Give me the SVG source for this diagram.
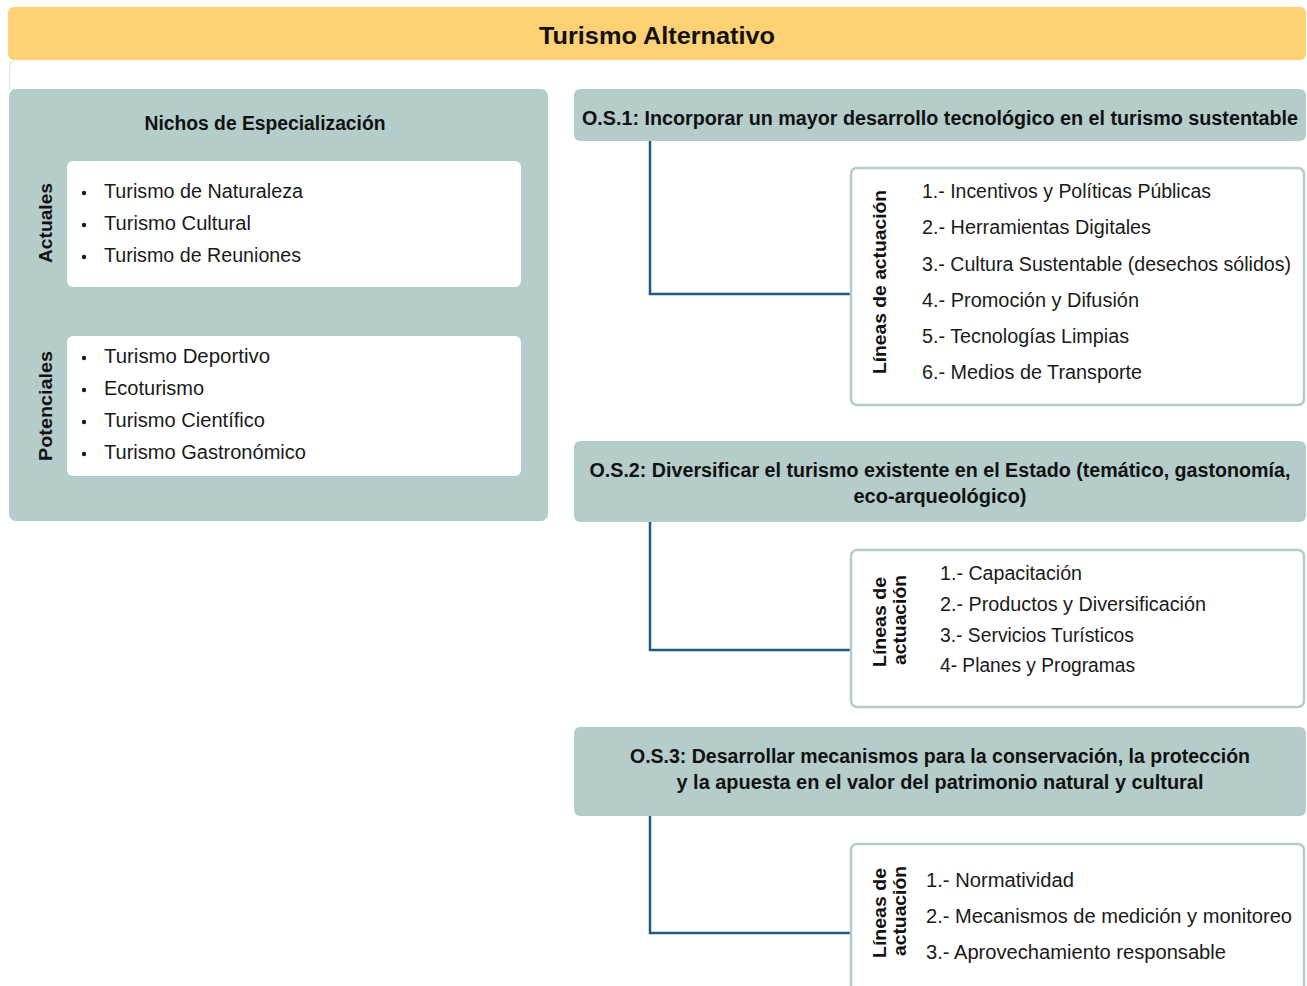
<svg xmlns="http://www.w3.org/2000/svg" width="1307" height="986" viewBox="0 0 1307 986">
<style>
.teal{fill:#B4CDCA}
.wbox{fill:#FFFFFF}
.obox{fill:#FFFFFF;stroke:#B4CDCA;stroke-width:2.5}
.t{font-family:"Liberation Sans",Arial,sans-serif;fill:#1a1a1a}
.b{font-family:"Liberation Sans",Arial,sans-serif;font-weight:bold;fill:#111}
.item{font-size:20px}
.hd{font-size:19.5px}
.rot{font-size:18px}
.conn{fill:none;stroke:#1F5A86;stroke-width:2.5}
</style>
<rect width="1307" height="986" fill="#FFFFFF"/>
<g id="title">
<rect x="8" y="7" width="1298" height="53" rx="6" fill="#FED274"/>
<text class="b" x="657" y="44" font-size="24" text-anchor="middle" textLength="236" lengthAdjust="spacingAndGlyphs">Turismo Alternativo</text>
</g>
<path d="M9.5 90 L9.5 66 Q9.5 61 14 61" fill="none" stroke="#E3ECEB" stroke-width="1.5"/>
<g id="nichos">
<rect class="teal" x="9" y="89" width="539" height="432" rx="7"/>
<text class="b hd" x="265" y="130" text-anchor="middle" textLength="241" lengthAdjust="spacingAndGlyphs">Nichos de Especialización</text>
</g>
<g id="actuales">
<rect class="wbox" x="67" y="161" width="454" height="126" rx="6"/>
<text class="b" font-size="19" transform="translate(52,223) rotate(-90)" text-anchor="middle" textLength="80" lengthAdjust="spacingAndGlyphs">Actuales</text>
<circle cx="84" cy="193" r="2.2" fill="#1a1a1a"/>
<circle cx="84" cy="225" r="2.2" fill="#1a1a1a"/>
<circle cx="84" cy="257" r="2.2" fill="#1a1a1a"/>
<text class="t item" x="104" y="198" textLength="199" lengthAdjust="spacingAndGlyphs">Turismo de Naturaleza</text>
<text class="t item" x="104" y="230" textLength="147" lengthAdjust="spacingAndGlyphs">Turismo Cultural</text>
<text class="t item" x="104" y="262" textLength="197" lengthAdjust="spacingAndGlyphs">Turismo de Reuniones</text>
</g>
<g id="potenciales">
<rect class="wbox" x="67" y="336" width="454" height="140" rx="6"/>
<text class="b" font-size="19" transform="translate(52,406) rotate(-90)" text-anchor="middle" textLength="110" lengthAdjust="spacingAndGlyphs">Potenciales</text>
<circle cx="84" cy="358" r="2.2" fill="#1a1a1a"/>
<circle cx="84" cy="390" r="2.2" fill="#1a1a1a"/>
<circle cx="84" cy="422" r="2.2" fill="#1a1a1a"/>
<circle cx="84" cy="454" r="2.2" fill="#1a1a1a"/>
<text class="t item" x="104" y="363" textLength="166" lengthAdjust="spacingAndGlyphs">Turismo Deportivo</text>
<text class="t item" x="104" y="395" textLength="100" lengthAdjust="spacingAndGlyphs">Ecoturismo</text>
<text class="t item" x="104" y="427" textLength="161" lengthAdjust="spacingAndGlyphs">Turismo Científico</text>
<text class="t item" x="104" y="459" textLength="202" lengthAdjust="spacingAndGlyphs">Turismo Gastronómico</text>
</g>
<g id="connectors">
<path class="conn" d="M650 141 V294 H851"/>
<path class="conn" d="M650 522 V650 H851"/>
<path class="conn" d="M650 816 V933 H851"/>
</g>
<g id="os1">
<rect class="teal" x="574" y="89" width="732" height="52" rx="6"/>
<text class="b hd" x="940" y="125" text-anchor="middle" textLength="716" lengthAdjust="spacingAndGlyphs">O.S.1: Incorporar un mayor desarrollo tecnológico en el turismo sustentable</text>
</g>
<g id="lineas1">
<rect class="obox" x="851" y="168" width="453" height="237" rx="6"/>
<text class="b rot" transform="translate(886,282) rotate(-90)" text-anchor="middle" textLength="184" lengthAdjust="spacingAndGlyphs">Líneas de actuación</text>
<text class="t item" x="922" y="198" textLength="289" lengthAdjust="spacingAndGlyphs">1.- Incentivos y Políticas Públicas</text>
<text class="t item" x="922" y="234" textLength="229" lengthAdjust="spacingAndGlyphs">2.- Herramientas Digitales</text>
<text class="t item" x="922" y="271" textLength="369" lengthAdjust="spacingAndGlyphs">3.- Cultura Sustentable (desechos sólidos)</text>
<text class="t item" x="922" y="307" textLength="217" lengthAdjust="spacingAndGlyphs">4.- Promoción y Difusión</text>
<text class="t item" x="922" y="343" textLength="207" lengthAdjust="spacingAndGlyphs">5.- Tecnologías Limpias</text>
<text class="t item" x="922" y="379" textLength="220" lengthAdjust="spacingAndGlyphs">6.- Medios de Transporte</text>
</g>
<g id="os2">
<rect class="teal" x="574" y="441" width="732" height="81" rx="6"/>
<text class="b hd" x="940" y="477" text-anchor="middle" textLength="701" lengthAdjust="spacingAndGlyphs">O.S.2: Diversificar el turismo existente en el Estado (temático, gastonomía,</text>
<text class="b hd" x="940" y="503" text-anchor="middle" textLength="173" lengthAdjust="spacingAndGlyphs">eco-arqueológico)</text>
</g>
<g id="lineas2">
<rect class="obox" x="851" y="550" width="453" height="157" rx="6"/>
<text class="b rot" transform="translate(886,622) rotate(-90)" text-anchor="middle" textLength="90" lengthAdjust="spacingAndGlyphs">Líneas de</text>
<text class="b rot" transform="translate(906,620) rotate(-90)" text-anchor="middle" textLength="90" lengthAdjust="spacingAndGlyphs">actuación</text>
<text class="t item" x="940" y="580" textLength="142" lengthAdjust="spacingAndGlyphs">1.- Capacitación</text>
<text class="t item" x="940" y="611" textLength="266" lengthAdjust="spacingAndGlyphs">2.- Productos y Diversificación</text>
<text class="t item" x="940" y="642" textLength="194" lengthAdjust="spacingAndGlyphs">3.- Servicios Turísticos</text>
<text class="t item" x="940" y="672" textLength="195" lengthAdjust="spacingAndGlyphs">4- Planes y Programas</text>
</g>
<g id="os3">
<rect class="teal" x="574" y="727" width="732" height="89" rx="6"/>
<text class="b hd" x="940" y="763" text-anchor="middle" textLength="620" lengthAdjust="spacingAndGlyphs">O.S.3: Desarrollar mecanismos para la conservación, la protección</text>
<text class="b hd" x="940" y="789" text-anchor="middle" textLength="527" lengthAdjust="spacingAndGlyphs">y la apuesta en el valor del patrimonio natural y cultural</text>
</g>
<g id="lineas3">
<rect class="obox" x="851" y="844" width="453" height="160" rx="6"/>
<text class="b rot" transform="translate(886,913) rotate(-90)" text-anchor="middle" textLength="90" lengthAdjust="spacingAndGlyphs">Líneas de</text>
<text class="b rot" transform="translate(906,911) rotate(-90)" text-anchor="middle" textLength="90" lengthAdjust="spacingAndGlyphs">actuación</text>
<text class="t item" x="926" y="887" textLength="148" lengthAdjust="spacingAndGlyphs">1.- Normatividad</text>
<text class="t item" x="926" y="923" textLength="366" lengthAdjust="spacingAndGlyphs">2.- Mecanismos de medición y monitoreo</text>
<text class="t item" x="926" y="959" textLength="300" lengthAdjust="spacingAndGlyphs">3.- Aprovechamiento responsable</text>
</g>
</svg>
